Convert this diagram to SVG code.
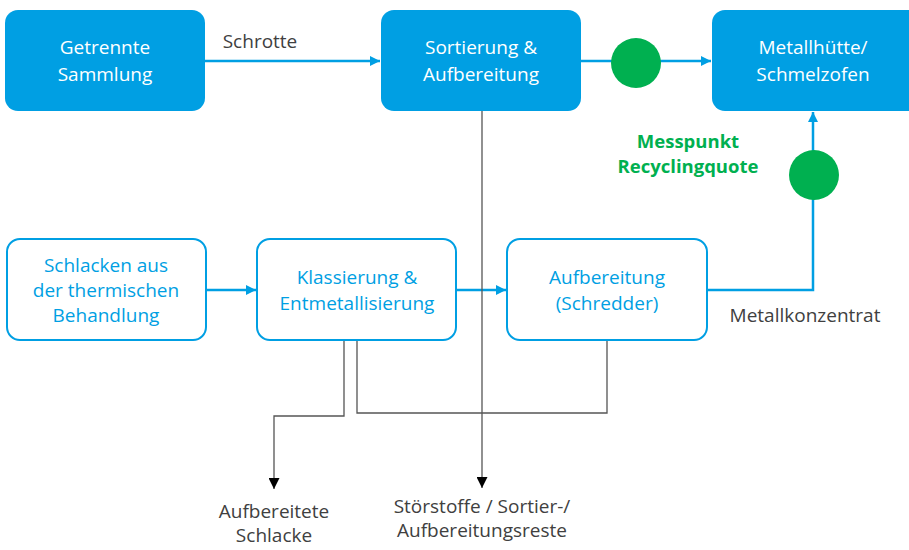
<svg xmlns="http://www.w3.org/2000/svg" width="909" height="550" viewBox="0 0 909 550">
<defs>
<marker id="ab" viewBox="0 0 10 10" refX="10" refY="5" markerWidth="10" markerHeight="10" markerUnits="userSpaceOnUse" orient="auto"><path d="M0,0 L10,5 L0,10 Z" fill="#009FE3"/></marker>
<marker id="ak" viewBox="0 0 10 10" refX="10" refY="5" markerWidth="11" markerHeight="11" markerUnits="userSpaceOnUse" orient="auto"><path d="M0,0 L10,5 L0,10 Z" fill="#000"/></marker>
</defs>
<style>
text{font-family:"Open Sans","Liberation Sans",sans-serif;font-size:19px;text-anchor:middle}
.dark rect{fill:#009FE3}
.dark text{fill:#fff}
.light rect{fill:#fff;stroke:#009FE3;stroke-width:2}
.light text{fill:#009FE3}
.lbl{fill:#404040}
.blue{fill:none;stroke:#009FE3;stroke-width:2.5}
.gray{fill:none;stroke:#555;stroke-width:1.3}
.green{fill:#00B050}
.gt{fill:#00B050;font-weight:bold;font-size:18.5px}
</style>
<g id="connectors">
<path class="blue" d="M205,61 H380" marker-end="url(#ab)"/>
<path class="blue" d="M581,61 H711" marker-end="url(#ab)"/>
<path class="blue" d="M206,290 H256" marker-end="url(#ab)"/>
<path class="blue" d="M456,290 H506" marker-end="url(#ab)"/>
<path class="blue" d="M707,290 H813 V112" marker-end="url(#ab)"/>
<path class="gray" d="M344,340 V416 H274 V489" marker-end="url(#ak)"/>
<path class="gray" d="M357,340 V413 H607 V340"/>
<path class="gray" d="M482,111 V488" marker-end="url(#ak)"/>
</g>
<g id="n-sammlung" class="dark"><rect x="5" y="10" width="200" height="101" rx="13"/><text x="105" y="54">Getrennte</text><text x="105" y="81">Sammlung</text></g>
<g id="n-sortierung" class="dark"><rect x="381" y="10" width="200" height="101" rx="13"/><text x="481" y="54">Sortierung &amp;</text><text x="481" y="81">Aufbereitung</text></g>
<g id="n-huette" class="dark"><rect x="712" y="10" width="210" height="101" rx="13"/><text x="813" y="54">Metallhütte/</text><text x="813" y="81">Schmelzofen</text></g>
<g id="n-schlacken" class="light"><rect x="7" y="239" width="199" height="101" rx="13"/><text x="106" y="272">Schlacken aus</text><text x="106" y="297">der thermischen</text><text x="106" y="322">Behandlung</text></g>
<g id="n-klassierung" class="light"><rect x="257" y="239" width="199" height="101" rx="13"/><text x="357" y="284">Klassierung &amp;</text><text x="357" y="310">Entmetallisierung</text></g>
<g id="n-schredder" class="light"><rect x="507" y="239" width="200" height="101" rx="13"/><text x="607" y="284">Aufbereitung</text><text x="607" y="310">(Schredder)</text></g>
<g id="m1"><circle class="green" cx="636" cy="63" r="25"/></g>
<g id="m2"><circle class="green" cx="814" cy="175" r="25"/></g>
<g id="labels">
<text class="lbl" x="260" y="48">Schrotte</text>
<text class="lbl" x="805" y="322">Metallkonzentrat</text>
<text class="gt" x="688" y="148">Messpunkt</text>
<text class="gt" x="688" y="173">Recyclingquote</text>
<text class="lbl" x="274" y="518">Aufbereitete</text>
<text class="lbl" x="274" y="542">Schlacke</text>
<text class="lbl" x="482" y="513">Störstoffe / Sortier-/</text>
<text class="lbl" x="482" y="537">Aufbereitungsreste</text>
</g>
</svg>
